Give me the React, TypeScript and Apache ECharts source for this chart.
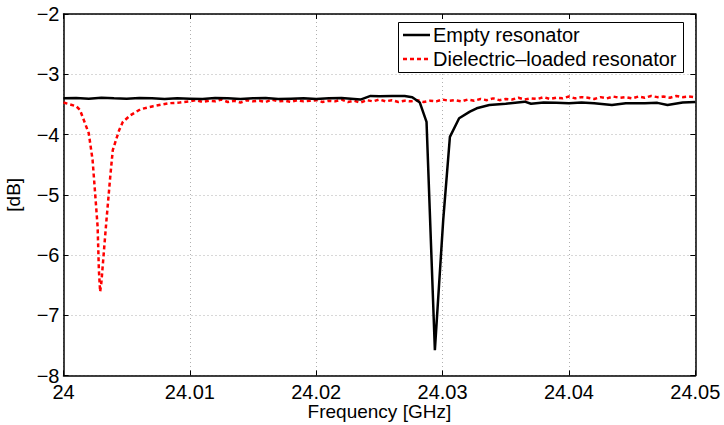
import React, { useEffect, useRef } from "react";
import * as echarts from "echarts";

const xTicks = [24, 24.01, 24.02, 24.03, 24.04, 24.05];
const yTicks = [-8, -7, -6, -5, -4, -3, -2];
const seriesNames = ["Empty resonator", "Dielectric\u2013loaded resonator"];

const emptyFreq = [
  24.0, 24.001, 24.002, 24.003, 24.004, 24.005, 24.006, 24.007, 24.008, 24.009,
  24.01, 24.011, 24.012, 24.013, 24.014, 24.015, 24.016, 24.017, 24.018, 24.019,
  24.02, 24.021, 24.022, 24.023, 24.0235, 24.0243, 24.025, 24.026, 24.027, 24.0276,
  24.0282, 24.02873, 24.02939, 24.03005, 24.03058, 24.03131, 24.03216, 24.0327, 24.0337, 24.035,
  24.0365, 24.037, 24.038, 24.039, 24.04, 24.041, 24.042, 24.0434, 24.0445, 24.046,
  24.047, 24.0478, 24.049, 24.05,
];
const emptyDb = [
  -3.4, -3.395, -3.405, -3.39, -3.4, -3.405, -3.395, -3.4, -3.41, -3.4,
  -3.405, -3.41, -3.395, -3.4, -3.41, -3.4, -3.395, -3.41, -3.405, -3.4,
  -3.41, -3.4, -3.395, -3.41, -3.42, -3.36, -3.365, -3.36, -3.36, -3.38,
  -3.47, -3.79, -7.58, -5.42, -4.04, -3.73, -3.62, -3.565, -3.51, -3.49,
  -3.455, -3.49, -3.47, -3.475, -3.48, -3.47, -3.48, -3.51, -3.48, -3.48,
  -3.475, -3.51, -3.47, -3.46,
];

const loadedFreq = [
  24.0, 24.0005, 24.001, 24.0013, 24.002, 24.0023, 24.0025, 24.0027, 24.0028, 24.0029,
  24.003, 24.0031, 24.0034, 24.0037, 24.0039, 24.0044, 24.0047, 24.0053, 24.0061, 24.0071,
  24.0084, 24.0092,
  24.0095, 24.01, 24.0105, 24.011, 24.0115, 24.012, 24.0125, 24.013, 24.0135, 24.014,
  24.0145, 24.015, 24.0155, 24.016, 24.0165, 24.017, 24.0175, 24.018, 24.0185, 24.019,
  24.0195, 24.02, 24.0205, 24.021, 24.0215, 24.022, 24.0225, 24.023, 24.0235, 24.024,
  24.0245, 24.025, 24.0255, 24.026, 24.0265, 24.027, 24.0275, 24.028, 24.0285, 24.029,
  24.0295, 24.03, 24.0305, 24.031, 24.0315, 24.032, 24.0325, 24.033, 24.0335, 24.034,
  24.0345, 24.035, 24.0355, 24.036, 24.0365, 24.037, 24.0375, 24.038, 24.0385, 24.039,
  24.0395, 24.04, 24.0405, 24.041, 24.0415, 24.042, 24.0425, 24.043, 24.0435, 24.044,
  24.0445, 24.045, 24.0455, 24.046, 24.0465, 24.047, 24.0475, 24.048, 24.0485, 24.049,
  24.0495, 24.05,
];
const loadedDb = [
  -3.47, -3.5, -3.53, -3.59, -3.98, -4.42, -4.97, -5.53, -6.25, -6.61,
  -6.45, -6.19, -5.42, -4.7, -4.26, -3.93, -3.79, -3.68, -3.58, -3.53,
  -3.48, -3.47,
  -3.46, -3.45, -3.43, -3.46, -3.44, -3.45, -3.42, -3.46, -3.44, -3.47,
  -3.43, -3.45, -3.44, -3.46, -3.42, -3.45, -3.44, -3.46, -3.43, -3.45,
  -3.44, -3.43, -3.46, -3.44, -3.45, -3.42, -3.46, -3.44, -3.47, -3.43,
  -3.45, -3.42, -3.45, -3.43, -3.46, -3.44, -3.45, -3.43, -3.46, -3.44,
  -3.45, -3.42, -3.44, -3.43, -3.45, -3.42, -3.44, -3.41, -3.43, -3.4,
  -3.43, -3.41, -3.42, -3.39, -3.42, -3.4, -3.41, -3.38, -3.41, -3.39,
  -3.4, -3.37, -3.4, -3.38, -3.39, -3.41, -3.38, -3.4, -3.37, -3.39,
  -3.38, -3.4, -3.37, -3.39, -3.36, -3.38, -3.37, -3.39, -3.36, -3.38,
  -3.37, -3.38,
];

const FONT = "'Liberation Sans', Arial, Helvetica, sans-serif";

const fmtX = (v: number) => v.toFixed(2).replace(/\.?0+$/, "");
const fmtY = (v: number) => (v < 0 ? "\u2212" + Math.abs(v) : String(v));

export default function App() {
  const ref = useRef<HTMLDivElement>(null);
  useEffect(() => {
    if (!ref.current) return;
    const chart = echarts.init(ref.current, undefined, { renderer: "svg" });
    const axisLine = { show: true, lineStyle: { color: "#000", width: 1.5 } };
    const tick = { show: true, inside: true, length: 5, lineStyle: { color: "#000", width: 1 } };
    const split = { show: true, lineStyle: { color: "#b0b0b0", type: [1, 3] as any, width: 1 } };
    chart.setOption({
      animation: false,
      backgroundColor: "#fff",
      grid: {
        left: 63.5,
        right: 28.7,
        top: 14,
        bottom: 49.5,
        containLabel: false,
        outerBoundsMode: "none",
      },
      graphic: [
        {
          type: "rect",
          shape: { x: 398.5, y: 22.5, width: 285, height: 50 },
          style: { fill: "#fff", stroke: "#000", lineWidth: 1 },
          z: 100,
        },
        {
          type: "line",
          shape: { x1: 403, y1: 35, x2: 430, y2: 35 },
          style: { stroke: "#000", lineWidth: 2.5 },
          z: 101,
        },
        {
          type: "line",
          shape: { x1: 403, y1: 59, x2: 430, y2: 59 },
          style: { stroke: "#ff0000", lineWidth: 2.5, lineDash: [4, 3] },
          z: 101,
        },
        {
          type: "text",
          x: 433,
          y: 35,
          style: { text: seriesNames[0], font: `20px ${FONT}`, fill: "#000", verticalAlign: "middle", align: "left" },
          z: 101,
        },
        {
          type: "text",
          x: 433,
          y: 59,
          style: { text: seriesNames[1], font: `20px ${FONT}`, fill: "#000", verticalAlign: "middle", align: "left" },
          z: 101,
        },
      ],
      xAxis: [
        {
          type: "value",
          min: xTicks[0],
          max: xTicks[xTicks.length - 1],
          interval: 0.01,
          position: "bottom",
          name: "Frequency [GHz]",
          nameLocation: "middle",
          nameGap: 26,
          nameMoveOverlap: false,
          nameTextStyle: { fontFamily: FONT, fontSize: 19, color: "#000" },
          axisLine,
          axisTick: tick,
          splitLine: split,
          axisLabel: {
            fontFamily: FONT,
            fontSize: 20,
            color: "#000",
            margin: 6,
            showMinLabel: true,
            showMaxLabel: true,
            formatter: (v: number) => fmtX(v),
          },
        },
        {
          type: "value",
          min: xTicks[0],
          max: xTicks[xTicks.length - 1],
          interval: 0.01,
          position: "top",
          axisLine,
          axisTick: tick,
          splitLine: { show: false },
          axisLabel: { show: false },
        },
      ],
      yAxis: [
        {
          type: "value",
          min: yTicks[0],
          max: yTicks[yTicks.length - 1],
          interval: 1,
          position: "left",
          name: "[dB]",
          nameLocation: "middle",
          nameGap: 41,
          nameMoveOverlap: false,
          nameRotate: 90,
          nameTextStyle: { fontFamily: FONT, fontSize: 19, color: "#000" },
          axisLine,
          axisTick: tick,
          splitLine: split,
          axisLabel: {
            fontFamily: FONT,
            fontSize: 20,
            color: "#000",
            margin: 4,
            showMinLabel: true,
            showMaxLabel: true,
            formatter: (v: number) => fmtY(v),
          },
        },
        {
          type: "value",
          min: yTicks[0],
          max: yTicks[yTicks.length - 1],
          interval: 1,
          position: "right",
          axisLine,
          axisTick: tick,
          splitLine: { show: false },
          axisLabel: { show: false },
        },
      ],
      series: [
        {
          name: seriesNames[0],
          type: "line",
          xAxisIndex: 0,
          yAxisIndex: 0,
          symbol: "none",
          showSymbol: false,
          lineStyle: { color: "#000", width: 2.5 },
          itemStyle: { color: "#000" },
          data: emptyFreq.map((f, i) => [f, emptyDb[i]]),
          z: 3,
        },
        {
          name: seriesNames[1],
          type: "line",
          xAxisIndex: 0,
          yAxisIndex: 0,
          symbol: "none",
          showSymbol: false,
          lineStyle: { color: "#ff0000", width: 2.5, type: [4, 3] },
          itemStyle: { color: "#ff0000" },
          data: loadedFreq.map((f, i) => [f, loadedDb[i]]),
          z: 2,
        },
      ],
    });
    return () => chart.dispose();
  }, []);
  return <div ref={ref} style={{ width: 724, height: 425, position: "absolute", left: 0, top: 0 }} />;
}
